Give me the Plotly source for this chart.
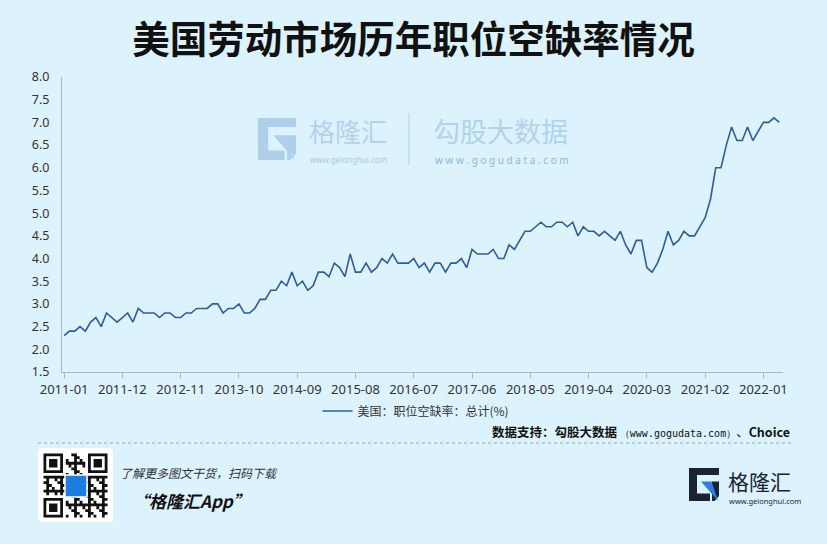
import plotly.graph_objects as go

# ---------------- data ----------------
months = [f"{y}-{m:02d}" for y in range(2011, 2023) for m in range(1, 13)][:136]
rate_2011 = [2.3, 2.4, 2.4, 2.5, 2.4, 2.6, 2.7, 2.5, 2.8, 2.7, 2.6, 2.7]
rate_2012 = [2.8, 2.6, 2.9, 2.8, 2.8, 2.8, 2.7, 2.8, 2.8, 2.7, 2.7, 2.8]
rate_2013 = [2.8, 2.9, 2.9, 2.9, 3.0, 3.0, 2.8, 2.9, 2.9, 3.0, 2.8, 2.8]
rate_2014 = [2.9, 3.1, 3.1, 3.3, 3.3, 3.5, 3.4, 3.7, 3.4, 3.5, 3.3, 3.4]
rate_2015 = [3.7, 3.7, 3.6, 3.9, 3.8, 3.6, 4.1, 3.7, 3.7, 3.9, 3.7, 3.8]
rate_2016 = [4.0, 3.9, 4.1, 3.9, 3.9, 3.9, 4.0, 3.8, 3.9, 3.7, 3.9, 3.9]
rate_2017 = [3.7, 3.9, 3.9, 4.0, 3.8, 4.2, 4.1, 4.1, 4.1, 4.2, 4.0, 4.0]
rate_2018 = [4.3, 4.2, 4.4, 4.6, 4.6, 4.7, 4.8, 4.7, 4.7, 4.8, 4.8, 4.7]
rate_2019 = [4.8, 4.5, 4.7, 4.6, 4.6, 4.5, 4.6, 4.5, 4.4, 4.6, 4.3, 4.1]
rate_2020 = [4.4, 4.4, 3.8, 3.7, 3.9, 4.2, 4.6, 4.3, 4.4, 4.6, 4.5, 4.5]
rate_2021 = [4.7, 4.9, 5.3, 6.0, 6.0, 6.5, 6.9, 6.6, 6.6, 6.9, 6.6, 6.8]
rate_2022 = [7.0, 7.0, 7.1, 7.0]
rate = (rate_2011 + rate_2012 + rate_2013 + rate_2014 + rate_2015 + rate_2016 +
        rate_2017 + rate_2018 + rate_2019 + rate_2020 + rate_2021 + rate_2022)
tick_labels = months[::11]
series_name = "美国：职位空缺率：总计(%)"

# ---------------- layout helpers ----------------
W, H = 827, 544
L, R, T, B = 62, 783, 77, 372   # plot area in pixels


def X(px):
    return (px - L) / (R - L)


def Y(py):
    return (B - py) / (B - T)


def poly(points):
    return "M " + " L ".join(f"{X(a):.5f},{Y(b):.5f}" for a, b in points) + " Z"


def g_logo(x0, y0, w, h, dark, accent):
    sx, sy = w / 30.0, h / 33.0
    p = lambda pts: poly([(x0 + a * sx, y0 + b * sy) for a, b in pts])
    body = [(0, 0), (30, 0), (30, 7), (8, 7), (8, 25.5), (21, 25.5), (21, 33), (0, 33)]
    bar = [(23, 13.5), (30, 13.5), (30, 28), (25.5, 33), (23, 33)]
    tri = [(12, 13.5), (22.5, 13.5), (29, 33)]
    return [
        dict(type="path", xref="paper", yref="paper", path=p(body), fillcolor=dark, line=dict(width=0), layer="below"),
        dict(type="path", xref="paper", yref="paper", path=p(bar), fillcolor=dark, line=dict(width=0), layer="below"),
        dict(type="path", xref="paper", yref="paper", path=p(tri), fillcolor=accent, line=dict(width=0), layer="below"),
    ]


def note(text, px, py, size, color, family="Noto Sans CJK SC", xanchor="center"):
    return dict(text=text, x=X(px), y=Y(py), xref="paper", yref="paper", showarrow=False,
                xanchor=xanchor, yanchor="middle", font=dict(family=family, size=size, color=color))


fig = go.Figure()
fig.add_trace(go.Scatter(
    x=months, y=rate, mode="lines", name=series_name,
    line=dict(color="#2E5E99", width=1.6),
))

bg = "#DCF2FD"
shapes = []
# watermark logo
shapes += g_logo(258, 118, 38, 42, "#AFCFEB", "#AFCFEB")
shapes.append(dict(type="line", xref="paper", yref="paper", x0=X(409), x1=X(409), y0=Y(113), y1=Y(165),
                   line=dict(color="#BFDAF0", width=1.5), layer="below"))
# dashed separator
shapes.append(dict(type="line", xref="paper", yref="paper", x0=X(38), x1=X(792), y0=Y(443), y1=Y(443),
                   line=dict(color="#9AA3AA", width=1, dash="dot")))
# QR code panel (rounded white box)
qx0, qy0, qx1, qy1, rr = 38, 448, 113, 522, 4
qr_box = (f"M {X(qx0+rr)},{Y(qy0)} L {X(qx1-rr)},{Y(qy0)} Q {X(qx1)},{Y(qy0)} {X(qx1)},{Y(qy0+rr)} "
          f"L {X(qx1)},{Y(qy1-rr)} Q {X(qx1)},{Y(qy1)} {X(qx1-rr)},{Y(qy1)} "
          f"L {X(qx0+rr)},{Y(qy1)} Q {X(qx0)},{Y(qy1)} {X(qx0)},{Y(qy1-rr)} "
          f"L {X(qx0)},{Y(qy0+rr)} Q {X(qx0)},{Y(qy0)} {X(qx0+rr)},{Y(qy0)} Z")
shapes.append(dict(type="path", xref="paper", yref="paper", path=qr_box, fillcolor="white", line=dict(width=0)))
# decorative QR modules
N = 23
mx0, my0, ms = 43.5, 453.5, 64.0 / N


def finder(ci, cj):
    out = set()
    for a in range(7):
        for b in range(7):
            if a in (0, 6) or b in (0, 6) or (2 <= a <= 4 and 2 <= b <= 4):
                out.add((ci + a, cj + b))
    return out


fset = finder(0, 0) | finder(0, N - 7) | finder(N - 7, 0)
freserve = set()
for ci, cj in [(0, 0), (0, N - 7), (N - 7, 0)]:
    for a in range(-1, 8):
        for b in range(-1, 8):
            freserve.add((ci + a, cj + b))
cells = []
for i in range(N):
    for j in range(N):
        if (i, j) in freserve:
            on = (i, j) in fset
        else:
            on = ((i * 7 + j * 11 + i * j * 3) % 5) < 2
        if 8 <= i <= 14 and 8 <= j <= 14:
            on = False
        if on:
            a, b = mx0 + j * ms, my0 + i * ms
            cells.append(f"M {X(a):.5f},{Y(b):.5f} H {X(a+ms):.5f} V {Y(b+ms):.5f} H {X(a):.5f} Z")
shapes.append(dict(type="path", xref="paper", yref="paper", path=" ".join(cells), fillcolor="#111111", line=dict(width=0)))
shapes.append(dict(type="rect", xref="paper", yref="paper", x0=X(65), x1=X(87), y0=Y(475), y1=Y(497),
                   fillcolor="#1E7BE0", line=dict(color="white", width=1.5)))
shapes += g_logo(70, 479.5, 12, 13, "white", "#BFE0FF")
# bottom-right logo
shapes += g_logo(689, 468, 30, 33, "#1B2233", "#2F7FDD")

annotations = [
    note("格隆汇", 348, 130, 26, "#B3D2EE"),
    note("www.gelonghui.com", 348, 159, 8, "#A9C9E8", family="Noto Sans"),
    note("勾股大数据", 501, 130, 27, "#B3D2EE"),
    note("w w w . g o g u d a t a . c o m", 502, 160, 10, "#8FB6DF", family="Noto Sans"),
    note("<b>数据支持：勾股大数据</b> <span style='font-family:DejaVu Sans Mono;font-size:10px'>（www.gogudata.com）</span>、<b>Choice</b>",
         792, 432, 12.5, "#111111", xanchor="right"),
    note("<i>了解更多图文干货，扫码下载</i>", 118, 472, 12, "#333333", xanchor="left"),
    note("<b><i>“格隆汇App”</i></b>", 130, 500, 17, "#111111", xanchor="left"),
    note("格隆汇", 726, 481, 21, "#1B2233", xanchor="left"),
    note("www.gelonghui.com", 727, 501, 7.5, "#1B2233", family="Noto Sans", xanchor="left"),
]

fig.update_layout(
    width=W, height=H,
    margin=dict(l=L, r=W - R, t=T, b=H - B, pad=0),
    paper_bgcolor=bg, plot_bgcolor=bg,
    title=dict(text="<b>美国劳动市场历年职位空缺率情况</b>", x=0.5, xref="container", xanchor="center",
               y=1 - 40 / H, yanchor="middle",
               font=dict(family="Noto Sans CJK SC", size=37.5, color="#111111")),
    font=dict(family="Noto Sans, Noto Sans CJK SC", size=12, color="#333333"),
    showlegend=True,
    legend=dict(orientation="h", x=X(416), xanchor="center", y=Y(411), yanchor="middle",
                bgcolor="rgba(0,0,0,0)", font=dict(family="Noto Sans CJK SC", size=12, color="#333333")),
    shapes=shapes,
    annotations=annotations,
    xaxis=dict(type="category", range=[-0.4, 135.7], tickmode="array", tickvals=tick_labels, ticktext=tick_labels,
               showgrid=False, zeroline=False, showline=True, linecolor="#A9B8C4", linewidth=1,
               ticks="outside", ticklen=5, tickcolor="#A9B8C4", tickangle=0,
               tickfont=dict(family="Noto Sans", size=13, color="#333333"), automargin=False),
    yaxis=dict(range=[1.5, 8.0], dtick=0.5, tick0=1.5, tickformat=".1f", showgrid=False, zeroline=False,
               showline=True, linecolor="#A9B8C4", linewidth=1, ticks="", ticklabelstandoff=9,
               tickfont=dict(family="Noto Sans", size=12.5, color="#333333"), automargin=False),
)

fig.write_html("out.html", config={"displayModeBar": False},
               post_script="document.body.style.margin='0';document.body.style.background='" + bg + "';")
